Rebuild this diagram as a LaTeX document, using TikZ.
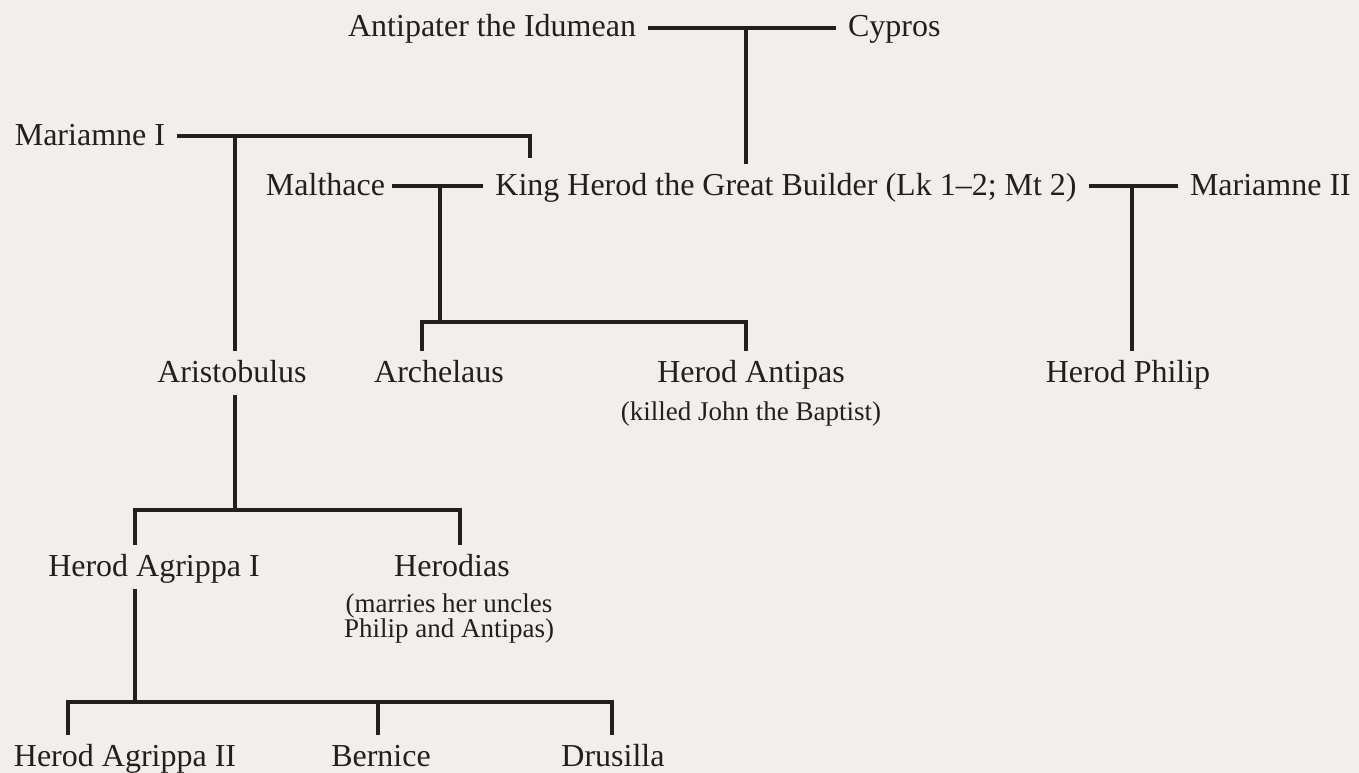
\documentclass[tikz,border=0pt]{standalone}
\usepackage{fontspec}
\setmainfont{Liberation Serif}
\definecolor{bgc}{HTML}{F0EFEC}
\definecolor{ink}{HTML}{231F20}
\begin{document}
\begin{tikzpicture}[x=1pt,y=-1pt,
  ln/.style={draw=ink,line width=4pt,line join=miter,line cap=butt},
  lbl/.style={font=\fontsize{32}{36}\selectfont,text=ink,inner sep=0pt,
    text height=22pt,text depth=4pt,outer xsep=12pt,outer ysep=9pt},
  note/.style={font=\fontsize{27}{25}\selectfont,text=ink,inner sep=0pt,align=center}]
\fill[bgc] (0,0) rectangle (1359,773);
\useasboundingbox (0,0) rectangle (1359,773);
% people
\node[lbl,anchor=base east] (ant) at (648,37) {Antipater the Idumean};
\node[lbl,anchor=base west] (cyp) at (836,37) {Cypros};
\node[lbl,anchor=base east] (mar1) at (177,145) {Mariamne I};
\node[lbl,anchor=base east,outer xsep=7pt] (mal) at (392,195) {Malthace};
\node[lbl,anchor=base] (herod) at (786,195) {King Herod the Great Builder (Lk 1–2; Mt 2)};
\node[lbl,anchor=base west] (mar2) at (1178,195) {Mariamne II};
\node[lbl,anchor=base] (aris) at (232,382) {Aristobulus};
\node[lbl,anchor=base] (arch) at (439,382) {Archelaus};
\node[lbl,anchor=base] (antip) at (751,382) {Herod Antipas};
\node[note,anchor=base] (antipnote) at (751,420) {(killed John the Baptist)};
\node[lbl,anchor=base] (philip) at (1128,382) {Herod Philip};
\node[lbl,anchor=base] (agr1) at (154,576) {Herod Agrippa I};
\node[lbl,anchor=base] (herodias) at (452,576) {Herodias};
\node[note,anchor=north] (herodiasnote) at (449,594) {(marries her uncles\\Philip and Antipas)};
\node[lbl,anchor=base] (agr2) at (125,766) {Herod Agrippa II};
\node[lbl,anchor=base] (bern) at (381,766) {Bernice};
\node[lbl,anchor=base] (dru) at (613,766) {Drusilla};
% junctions
\coordinate (jA) at (746,28);
\coordinate (jM1) at (235,136);
\coordinate (jM1e) at (530,136);
\coordinate (jMal) at (440,186);
\coordinate (jM2) at (1132,186);
\coordinate (bL1) at (422,322);
\coordinate (bR1) at (746,322);
\coordinate (bL2) at (135,510);
\coordinate (bR2) at (460,510);
\coordinate (bL3) at (68,702);
\coordinate (bM3) at (378,702);
\coordinate (bR3) at (612,702);
% connectors
\draw[ln] (ant.east) -- (cyp.west);
\draw[ln] (jA) -- (jA |- herod.north);
\draw[ln,shorten >=6pt] (mar1.east) -- (jM1e) -- (jM1e |- herod.north);
\draw[ln] (jM1) -- (jM1 |- aris.north);
\draw[ln] (mal.east) -- (herod.west);
\draw[ln] (jMal) -- (jMal |- bL1);
\draw[ln] (bL1 |- arch.north) -- (bL1) -- (bR1) -- (bR1 |- antip.north);
\draw[ln] (herod.east) -- (mar2.west);
\draw[ln] (jM2) -- (jM2 |- philip.north);
\draw[ln] (jM1 |- aris.south) -- (jM1 |- bL2);
\draw[ln] (bL2 |- agr1.north) -- (bL2) -- (bR2) -- (bR2 |- herodias.north);
\draw[ln] (bL2 |- agr1.south) -- (bL2 |- bL3);
\draw[ln] (bL3 |- agr2.north) -- (bL3) -- (bR3) -- (bR3 |- dru.north);
\draw[ln] (bM3) -- (bM3 |- bern.north);
\end{tikzpicture}
\end{document}
